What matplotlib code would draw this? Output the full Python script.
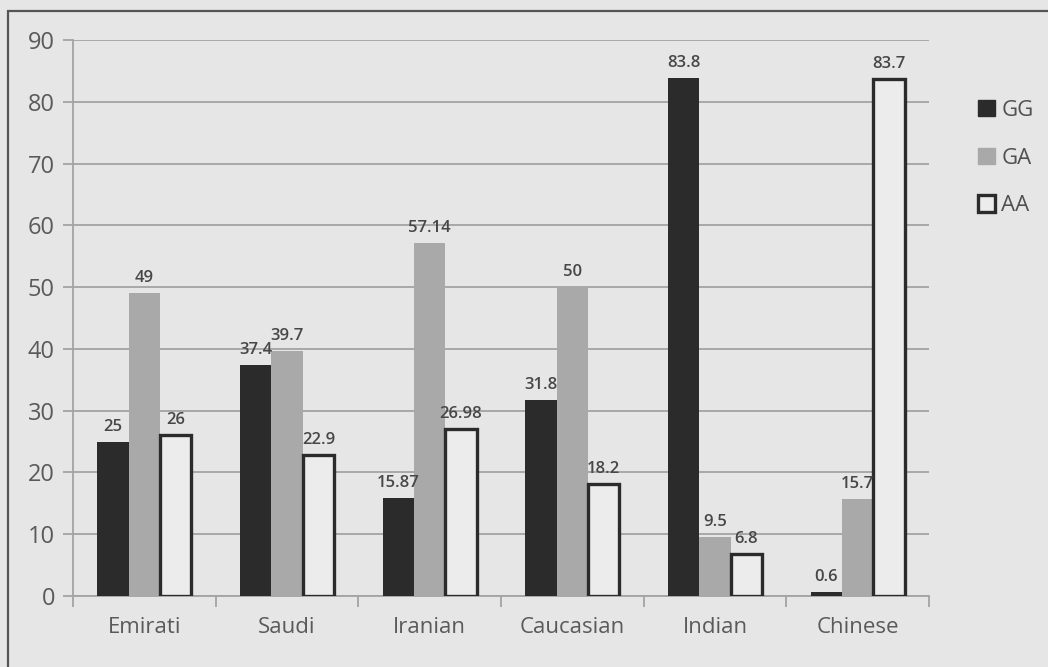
import matplotlib
matplotlib.use("Agg")
import matplotlib.pyplot as plt
import numpy as np
from matplotlib.patches import Patch, Rectangle

# genotype frequencies (%) per population
populations = ["Emirati", "Saudi", "Iranian", "Caucasian", "Indian", "Chinese"]
gg_values = [25, 37.4, 15.87, 31.8, 83.8, 0.6]
ga_values = [49, 39.7, 57.14, 50, 9.5, 15.7]
aa_values = [26, 22.9, 26.98, 18.2, 6.8, 83.7]
gg_labels = ["25", "37.4", "15.87", "31.8", "83.8", "0.6"]
ga_labels = ["49", "39.7", "57.14", "50", "9.5", "15.7"]
aa_labels = ["26", "22.9", "26.98", "18.2", "6.8", "83.7"]
genotypes = ["GG", "GA", "AA"]

bg = "#e6e6e6"
dark = "#2b2b2b"
mid = "#a9a9a9"
grid_col = "#a3a3a3"
text_col = "#5a5a5a"

plt.rcParams["font.family"] = ["Open Sans", "DejaVu Sans"]

fig = plt.figure(figsize=(10.48, 6.67), dpi=100, facecolor=bg)
ax = fig.add_axes([73 / 1048, 1 - 596 / 667, (929 - 73) / 1048, (596 - 40) / 667])
ax.set_facecolor(bg)

# outer chart border
fig.patches.append(Rectangle((8 / 1048, -0.01), 1.0, 1 - 11 / 667 + 0.01,
                             transform=fig.transFigure, fill=False,
                             edgecolor="#555555", linewidth=1.6))

x = np.arange(len(populations))
w = 0.22
bars_gg = ax.bar(x - w, gg_values, w, color=dark, zorder=3)
bars_ga = ax.bar(x, ga_values, w, color=mid, zorder=3)
bars_aa = ax.bar(x + w, aa_values, w, facecolor="#ececec", edgecolor=dark,
                 linewidth=2.4, zorder=3)

for bars, labels in [(bars_gg, gg_labels), (bars_ga, ga_labels), (bars_aa, aa_labels)]:
    for b, lab in zip(bars, labels):
        ax.annotate(lab, (b.get_x() + b.get_width() / 2, b.get_height()),
                    xytext=(0, 5), textcoords="offset points",
                    ha="center", va="bottom", fontsize=12, fontweight="semibold",
                    color="#474747")

ax.set_ylim(0, 90)
ax.set_yticks(range(0, 91, 10))
ax.set_xlim(-0.5, len(populations) - 0.5)
ax.set_xticks(x)
ax.set_xticklabels(populations)
ax.set_xticks(np.arange(-0.5, len(populations)), minor=True)

ax.yaxis.grid(True, color=grid_col, linewidth=1.3, zorder=0)
ax.set_axisbelow(True)
for side in ["top", "right"]:
    ax.spines[side].set_visible(False)
for side in ["left", "bottom"]:
    ax.spines[side].set_color(grid_col)
    ax.spines[side].set_linewidth(1.3)

ax.tick_params(axis="y", length=7, width=1.3, color=grid_col, labelsize=17,
               labelcolor=text_col, pad=6)
ax.tick_params(axis="x", which="major", length=0, labelsize=16,
               labelcolor=text_col, pad=15)
ax.tick_params(axis="x", which="minor", length=8, width=1.3, color=grid_col)

handles = [Patch(facecolor=dark, edgecolor=dark),
           Patch(facecolor=mid, edgecolor=mid),
           Patch(facecolor="#ececec", edgecolor=dark, linewidth=2.4)]
leg = fig.legend(handles, genotypes, loc="upper left",
                 bbox_to_anchor=(958 / 1048, 1 - 80 / 667), frameon=False,
                 fontsize=16, labelcolor="#505050", handlelength=0.75,
                 handleheight=0.75, handletextpad=0.3, labelspacing=1.2)

fig.savefig("out.png", dpi=100, facecolor=bg)
